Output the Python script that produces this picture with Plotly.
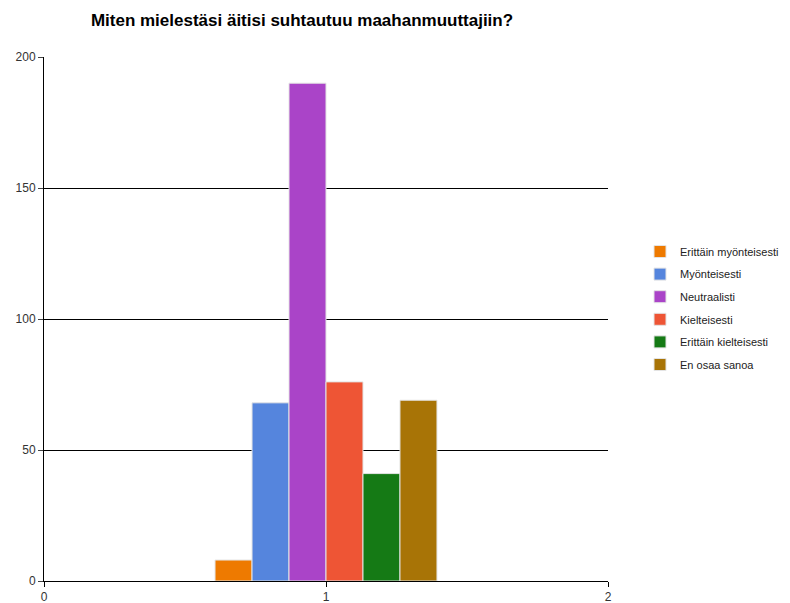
import plotly.graph_objects as go

title = "Miten mielestäsi äitisi suhtautuu maahanmuuttajiin?"
categories = ["Erittäin myönteisesti", "Myönteisesti", "Neutraalisti",
              "Kielteisesti", "Erittäin kielteisesti", "En osaa sanoa"]
values = [8, 68, 190, 76, 41, 69]
colors = ["#EE7A00", "#5585DD", "#AA44C8", "#EE5535", "#157A15", "#A87406"]
x_position = [1]
y_ticks = [0, 50, 100, 150, 200]
x_ticks = [0, 1, 2]

fig = go.Figure()
for i, (name, v, c) in enumerate(zip(categories, values, colors)):
    fig.add_trace(go.Bar(
        x=x_position, y=[v], name=name,
        marker=dict(color=c, line=dict(color="#E4E4E4", width=1)),
        legendgroup=f"g{i}",
    ))

fig.update_layout(
    width=790, height=603,
    margin=dict(l=44, r=182, t=57, b=22),
    paper_bgcolor="white", plot_bgcolor="white",
    barmode="group", bargap=0.213, bargroupgap=0,
    title=dict(text=f"<b>{title}</b>", x=302/790, xanchor="center",
               y=1 - 20/603, yanchor="middle",
               font=dict(family="Liberation Sans, Arial, sans-serif", size=17, color="#000")),
    font=dict(family="Liberation Sans, Arial, sans-serif", size=12, color="#222"),
    legend=dict(xref="container", yref="container",
                x=640/790, y=1 - 237/603, xanchor="left", yanchor="top",
                font=dict(size=11, color="#222"), traceorder="grouped",
                tracegroupgap=3.6, bgcolor="rgba(0,0,0,0)"),
    showlegend=True,
)
fig.update_xaxes(range=[0, 2], tickvals=x_ticks, ticks="outside", ticklen=5,
                 tickcolor="#000", showgrid=False, zeroline=False, automargin=False,
                 showline=True, linecolor="#000", linewidth=1,
                 tickfont=dict(size=12, color="#333"))
fig.update_yaxes(range=[0, 200], tickvals=y_ticks, ticks="outside", ticklen=5,
                 tickcolor="#444", showgrid=True, gridcolor="#000", gridwidth=1,
                 zeroline=False, showline=True, linecolor="#000", linewidth=1,
                 automargin=False, tickfont=dict(size=12, color="#333"))

fig.write_html("out.html", config={"responsive": False, "displayModeBar": False},
               post_script="document.body.style.margin='0';document.body.style.overflow='hidden';")
